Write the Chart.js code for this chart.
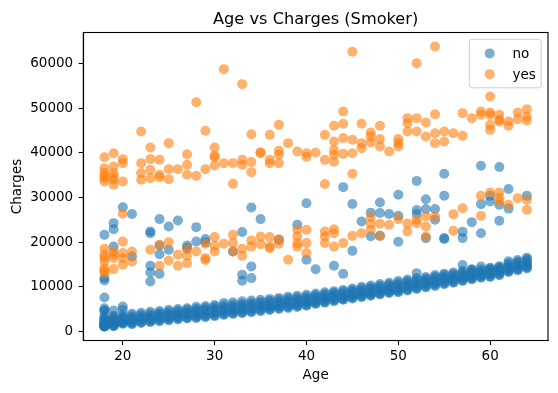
<!DOCTYPE html>
<html>
<head>
<meta charset="utf-8">
<script src="https://cdn.jsdelivr.net/npm/chart.js@4.4.1/dist/chart.umd.min.js"></script>
<style>
html,body{margin:0;padding:0;background:#fff;}
#wrap{width:558px;height:393px;}
</style>
</head>
<body>
<div id="wrap"><canvas id="c" width="558" height="393"></canvas></div>
<script>
// ---------------- data ----------------
const chartTitle = 'Age vs Charges (Smoker)';
const xTitle = 'Age';
const yTitle = 'Charges';
const seriesLabels = ['no', 'yes'];
const xTicks = [20, 30, 40, 50, 60];
const yTicks = [0, 10000, 20000, 30000, 40000, 50000, 60000];

const ages = [18,19,20,21,22,23,24,25,26,27,28,29,30,31,32,33,34,35,36,37,38,39,40,41,
              42,43,44,45,46,47,48,49,50,51,52,53,54,55,56,57,58,59,60,61,62,63,64];

// non-smokers: the dense lower band, one list of charges per age
const nonSmokerBand = [
  [1122,1135,1150,1200,1250,1330,1420,1530,1630,1710,1830,2000,2200,2480,2720,3000,3390,4570,4720,5200],
  [1240,1260,1390,1630,1730,1900,2130,2330,2640,2800,3170,3520,4690],
  [1710,1880,2020,2130,2460,2690,3050,3260,3700,4840,5600],
  [1650,1820,2100,2400,2700,3180,3500,4000],
  [1900,2080,2350,2700,2980,3360,3740,4210],
  [2100,2280,2550,2900,3170,3540,3950,4440],
  [2300,2480,2800,3150,3470,3880,4200,4600],
  [2500,2700,3000,3330,3640,4050,4420,4850],
  [2700,2900,3200,3560,3890,4300,4620,5010],
  [2900,3100,3400,3760,4160,4480,4890,5220],
  [3000,3200,3550,3950,4340,4690,5080,5550],
  [3200,3420,3750,4150,4570,4920,5300,5700],
  [3450,3650,3980,4370,4770,5120,5540,5950],
  [3700,3900,4250,4650,4970,5380,5830,6400],
  [3900,4100,4450,4830,5210,5600,6020,6550],
  [4100,4300,4650,5050,5430,5800,6230,6750],
  [4300,4500,4850,5250,5650,6020,6450,6950],
  [4550,4750,5100,5480,5870,6260,6630,7100],
  [4800,5000,5330,5700,6080,6490,6910,7300],
  [5050,5250,5580,5950,6310,6720,7120,7520],
  [5280,5470,5800,6170,6540,6950,7380,7800],
  [5500,5700,6020,6400,6770,7180,7610,8010],
  [5750,5950,6280,6650,7000,7410,7830,8210],
  [6190,6330,6600,6930,7300,7700,8120,8500],
  [6470,6620,6900,7240,7580,7980,8400,8790],
  [6800,6940,7200,7520,7880,8270,8660,9030],
  [7090,7240,7510,7840,8180,8560,8950,9310],
  [7390,7550,7820,8150,8500,8880,9260,9620],
  [7700,7860,8140,8480,8840,9240,9630,10000],
  [8000,8160,8450,8790,9150,9550,9930,10320],
  [8290,8450,8740,9080,9450,9860,10240,10610],
  [8600,8760,9050,9390,9760,10160,10550,10920],
  [8800,8980,9290,9650,10040,10470,10880,11300],
  [9200,9370,9680,10050,10440,10860,11250,11610],
  [9500,9680,10000,10360,10750,11160,11550,11900],
  [9880,10060,10370,10730,11110,11520,11880,12210],
  [10200,10400,10770,11120,11490,11880,12250,12650],
  [10600,10800,11150,11500,11860,12240,12610,12950],
  [10900,11100,11440,11780,12130,12510,12870,13210],
  [11300,11500,11810,12130,12480,12840,13180,13520],
  [11700,11840,12110,12440,12780,13140,13480,13810],
  [12050,12230,12490,12800,13110,13450,13900,14550],
  [12200,12400,12760,13120,13480,13820,14090,14250],
  [12600,12800,13150,13500,13850,14150,14400,14600],
  [13300,13440,13720,14070,14440,14820,15300,15700],
  [13700,13850,14140,14500,14880,15290,15650,16000],
  [14100,14330,14620,14980,15380,15800,16200,16500]
];

// non-smokers above the band: [age, charges]
const nonSmokerOutliers = [
  [18,21630],[18,11900],[18,11400],[18,7600],
  [19,24250],[19,22900],[19,19000],
  [20,27800],[21,26300],[21,16800],
  [23,22400],[23,22000],[23,14700],[23,13200],[23,11200],
  [24,25150],[24,19250],[24,17300],[24,12900],
  [25,23500],[25,18300],[26,24850],[27,19250],[27,18700],
  [28,23350],[28,20150],[29,20700],[29,20000],[32,17900],
  [33,22250],[33,12700],[33,11350],
  [34,27750],[34,14550],[34,11950],[35,25150],[37,20500],[39,23870],
  [40,28700],[40,16040],[41,13950],[43,14700],[44,32300],[44,12900],
  [45,28550],[45,18050],[46,24600],[47,26600],[47,21300],
  [48,28850],[48,26500],[48,21400],[49,26300],
  [50,30600],[50,25900],[50,20100],
  [52,33700],[52,27200],[52,26300],[52,13060],
  [53,29600],[53,27400],[53,20900],[54,27400],[54,25000],
  [55,35300],[55,30400],[55,20900],[55,20700],
  [57,22300],[57,20900],[57,14900],[58,24470],[58,13950],
  [59,37070],[59,28500],[59,22000],[60,30350],[60,29100],
  [61,36800],[61,28350],[61,24770],[62,31900],[62,27500],[64,30350]
];

// smokers, upper cluster: [age, charges]
const smokerHigh = [
  [18,39000],[18,36550],[18,35500],[18,34300],[18,33550],[18,34800],
  [19,39900],[19,36900],[19,35430],[19,33940],[19,32820],[19,34600],
  [20,38570],[20,37670],[20,33560],
  [22,44740],[22,37670],[22,35440],[22,33940],
  [23,41160],[23,38570],[23,36170],[23,34300],
  [24,38410],[24,35060],[24,34540],
  [25,42150],[25,36330],[25,34090],[26,36330],
  [27,39680],[27,37300],[27,35060],[28,51300],[28,34830],
  [29,44900],[29,36330],[30,41160],[30,39300],[30,39000],[30,37140],
  [31,58700],[31,37670],[32,37670],[32,33040],
  [33,55350],[33,38410],[33,37300],[34,44150],[34,37900],[34,35660],
  [35,40130],[35,39900],[36,44000],[36,38410],[36,37670],
  [37,46240],[37,40430],[37,39530],[37,37650],[38,42150],[39,40270],
  [40,39900],[40,39120],[41,40050],[42,44000],[42,38410],[42,33000],
  [43,46020],[43,42530],[43,40620],[43,39530],[43,38000],
  [44,49220],[44,46470],[44,43270],[44,39750],
  [45,62590],[45,42890],[45,39900],[45,35300],
  [46,46470],[46,42150],[46,41030],[47,44520],[47,43620],[47,42300],
  [48,46020],[48,43050],[48,41390],[49,40270],
  [50,43050],[50,42150],[50,41390],[51,47740],[51,46620],[51,44740],
  [52,60020],[52,47740],[52,44740],[53,46760],[53,43620],
  [54,63770],[54,48630],[54,44370],[54,42150],[55,44740],[55,42500],
  [56,44370],[57,48860],[57,43780],[58,47740],[59,49220],[59,48480],
  [60,52590],[60,48990],[60,48480],[60,46240],[60,45120],
  [61,48480],[61,47360],[61,47000],[62,46990],[62,46020],
  [63,48990],[63,47510],[64,49750],[64,48110],[64,47200]
];

// smokers, lower cluster: [age, charges]
const smokerLow = [
  [18,18500],[18,17160],[18,15660],[18,14180],[18,13580],[18,13060],[18,16500],
  [19,17900],[19,17160],[19,16420],[19,13960],
  [20,26330],[20,20130],[20,17540],[20,16420],[20,14920],
  [21,17900],[21,15660],[23,18280],[24,19400],[24,14700],
  [25,20000],[25,15880],[26,17160],[26,14700],
  [27,18430],[27,16940],[27,15300],[28,17900],
  [29,19620],[29,16420],[29,16000],[30,21120],[30,19170],[30,17900],
  [31,19620],[32,21630],[32,19780],[32,17900],[33,18500],[33,16940],
  [34,20360],[34,19000],[35,21250],[35,19550],
  [36,21120],[36,19000],[36,18660],[37,20670],[37,19620],[38,16040],
  [39,22750],[39,21250],[39,19780],[39,19000],
  [40,22750],[40,19780],[40,17540],[42,22370],[42,21250],[42,19780],
  [43,22900],[43,22000],[43,19000],[44,19780],[45,21400],[46,22000],
  [47,25590],[47,24100],[47,22750],[48,24100],[48,21400],[49,23870],
  [50,25150],[51,24100],[51,22370],[52,25000],[52,24250],
  [53,25730],[53,23490],[53,21250],[54,25730],[56,26260],[56,22530],
  [57,27600],[59,30350],[59,25880],[60,31100],
  [61,31100],[61,29980],[61,29080],[62,28350],[63,29840],[64,29460],[64,27230]
];

// ---------------- build the datasets ----------------
const toPoint = p => ({x: p[0], y: p[1]});
const noPoints = [];
ages.forEach((a, i) => nonSmokerBand[i].forEach(v => noPoints.push({x: a, y: v})));
nonSmokerOutliers.forEach(p => noPoints.push(toPoint(p)));
const yesPoints = smokerHigh.concat(smokerLow).map(toPoint);

const BLUE = 'rgba(31,119,180,0.6)';
const ORANGE = 'rgba(255,127,14,0.6)';
const FONT = '"DejaVu Sans", "Liberation Sans", sans-serif';
const R = 5;

const allY = noPoints.concat(yesPoints).map(p => p.y);
const yLo = Math.min(...allY), yHi = Math.max(...allY);
const yPad = (yHi - yLo) * 0.05;
const xLo = Math.min(...ages), xHi = Math.max(...ages);
const xPad = (xHi - xLo) * 0.05;

const decor = {
  id: 'decor',
  afterDraw(chart) {
    const {ctx, chartArea: a} = chart;
    ctx.save();
    // axes frame (all four spines)
    ctx.strokeStyle = '#000';
    ctx.lineWidth = 1.1;
    ctx.strokeRect(a.left, a.top, a.right - a.left, a.bottom - a.top);
    // title
    ctx.fillStyle = '#000';
    ctx.font = '16.2px ' + FONT;
    ctx.textAlign = 'center';
    ctx.textBaseline = 'alphabetic';
    ctx.fillText(chartTitle, (a.left + a.right) / 2, 23.5);
    // legend
    const fs = 13.5;
    ctx.font = fs + 'px ' + FONT;
    const tw = Math.max(...seriesLabels.map(t => ctx.measureText(t).width));
    const pad = 0.4 * fs, handle = 2.0 * fs, gap = 0.8 * fs, rowH = fs * 1.0, spacing = 0.5 * fs;
    const w = pad + handle + gap + tw + pad;
    const h = pad * 2 + rowH * 2 + spacing + 4;
    const right = a.right - 0.5 * fs, top = a.top + 0.5 * fs;
    const left = right - w;
    ctx.beginPath();
    if (ctx.roundRect) ctx.roundRect(left, top, w, h, 3); else ctx.rect(left, top, w, h);
    ctx.fillStyle = 'rgba(255,255,255,0.8)';
    ctx.fill();
    ctx.strokeStyle = '#cccccc';
    ctx.lineWidth = 1;
    ctx.stroke();
    const colors = [BLUE, ORANGE];
    seriesLabels.forEach((t, i) => {
      const cy = top + pad + 2 + rowH / 2 + i * (rowH + spacing + 0.5);
      ctx.beginPath();
      ctx.arc(left + pad + handle / 2 + 1.5, cy, R, 0, Math.PI * 2);
      ctx.fillStyle = colors[i];
      ctx.fill();
      ctx.fillStyle = '#000';
      ctx.textAlign = 'left';
      ctx.textBaseline = 'middle';
      ctx.fillText(t, left + pad + handle + gap, cy + 1);
    });
    ctx.restore();
  }
};

new Chart(document.getElementById('c'), {
  type: 'scatter',
  data: {
    datasets: [
      {label: seriesLabels[0], data: noPoints, backgroundColor: BLUE, borderWidth: 0,
       pointRadius: R, pointHoverRadius: R, order: 2},
      {label: seriesLabels[1], data: yesPoints, backgroundColor: ORANGE, borderWidth: 0,
       pointRadius: R, pointHoverRadius: R, order: 1}
    ]
  },
  options: {
    responsive: false,
    animation: false,
    devicePixelRatio: 1,
    layout: {padding: {left: 0, right: 10, top: 32.5, bottom: 0}},
    plugins: {legend: {display: false}, title: {display: false}, tooltip: {enabled: false}},
    scales: {
      x: {
        type: 'linear',
        min: xLo - xPad, max: xHi + xPad,
        afterFit: s => { s.height = 52.5; },
        afterBuildTicks: s => { s.ticks = xTicks.map(v => ({value: v})); },
        grid: {display: true, drawOnChartArea: false, drawTicks: true, tickLength: 4.6, color: '#000', tickWidth: 1.1},
        border: {display: true, color: '#000', width: 1.1},
        ticks: {color: '#000', font: {family: FONT, size: 13.5}, padding: 3.5, maxRotation: 0,
                callback: v => String(v)},
        title: {display: true, text: xTitle, color: '#000', font: {family: FONT, size: 13.5},
                padding: {top: 0, bottom: 9.5}}
      },
      y: {
        type: 'linear',
        min: yLo - yPad, max: yHi + yPad,
        afterFit: s => { s.width = 83.3; },
        afterBuildTicks: s => { s.ticks = yTicks.map(v => ({value: v})); },
        grid: {display: true, drawOnChartArea: false, drawTicks: true, tickLength: 4.6, color: '#000', tickWidth: 1.1},
        border: {display: true, color: '#000', width: 1.1},
        ticks: {color: '#000', font: {family: FONT, size: 13.5}, padding: 5.5,
                callback: v => String(v)},
        title: {display: true, text: yTitle, color: '#000', font: {family: FONT, size: 13.5},
                padding: {top: 9, bottom: 0}}
      }
    }
  },
  plugins: [decor]
});
</script>
</body>
</html>
